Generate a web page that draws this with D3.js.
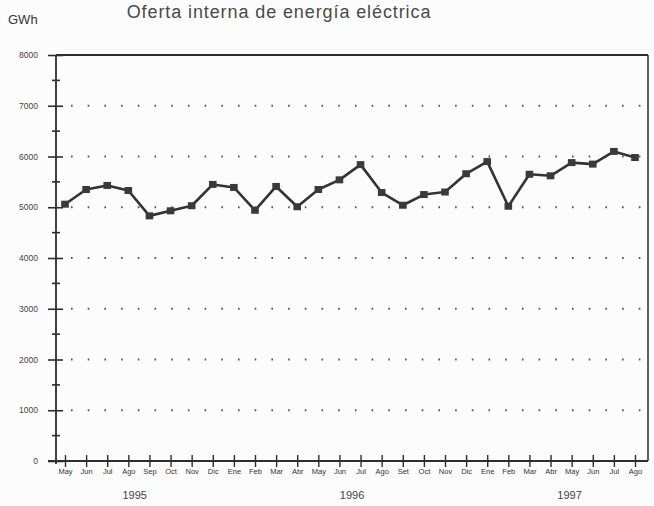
<!DOCTYPE html>
<html>
<head>
<meta charset="utf-8">
<script src="https://cdn.jsdelivr.net/npm/d3@7"></script>
<style>
  html, body { margin: 0; padding: 0; background: #fcfcfc; }
  svg { display: block; font-family: "Liberation Sans", Arial, sans-serif; }
</style>
</head>
<body>
<svg id="chart" width="654" height="506"></svg>
<script>
// ---- data ----
const months = ["May","Jun","Jul","Ago","Sep","Oct","Nov","Dic","Ene","Feb","Mar","Abr",
                "May","Jun","Jul","Ago","Set","Oct","Nov","Dic","Ene","Feb","Mar","Abr",
                "May","Jun","Jul","Ago"];
const values = [5060, 5350, 5430, 5330, 4830, 4930, 5030, 5450, 5390, 4940, 5410, 5010,
                5350, 5540, 5840, 5290, 5040, 5250, 5300, 5660, 5900, 5020, 5650, 5620,
                5880, 5850, 6100, 5980];
const years = ["1995", "1996", "1997"];
const yearAt = [3.3, 13.6, 23.9];   // month index under which each year label sits
const yTicks = [0, 1000, 2000, 3000, 4000, 5000, 6000, 7000, 8000];
const yMinorTicks = [500, 1500, 2500, 3500, 4500, 5500, 6500, 7500];
const title = "Oferta interna de energía eléctrica";
const unit = "GWh";

// ---- layout ----
const svg = d3.select("#chart");
const L = 56, R = 648, T = 55, B = 461;
const ink = "#2e2e2e";

const x = d3.scaleLinear().domain([0, months.length - 1]).range([65, 635]);
const y = d3.scaleLinear().domain([0, 8000]).range([B, T]);

// title
svg.append("text").attr("x", 279).attr("y", 18)
  .attr("text-anchor", "middle").attr("font-size", 18)
  .attr("letter-spacing", 0.9)
  .attr("fill", "#4a4a4a").text(title);

svg.append("text").attr("x", 8).attr("y", 24)
  .attr("font-size", 13).attr("fill", "#333").text(unit);

// dotted gridlines
svg.append("g").selectAll("line").data(yTicks.filter(d => d > 0 && d < 8000)).join("line")
  .attr("x1", 71).attr("x2", R - 2)
  .attr("y1", d => y(d)).attr("y2", d => y(d))
  .attr("stroke", "#555").attr("stroke-width", 2)
  .attr("stroke-dasharray", "1.6,15.1");

// frame: top and right
svg.append("line").attr("x1", L).attr("x2", R).attr("y1", T).attr("y2", T)
  .attr("stroke", ink).attr("stroke-width", 1.8);
svg.append("line").attr("x1", R).attr("x2", R).attr("y1", T).attr("y2", B)
  .attr("stroke", ink).attr("stroke-width", 1.5);

// y axis
const yAxis = d3.axisLeft(y).tickValues(yTicks).tickSize(8).tickPadding(10)
  .tickFormat(d3.format("d"));
const gy = svg.append("g").attr("transform", `translate(${L},0)`).call(yAxis);
gy.select(".domain").remove();
gy.selectAll(".tick line").attr("x2", 7).attr("x1", -8).attr("stroke", ink).attr("stroke-width", 1.6);
gy.selectAll(".tick text").attr("font-size", 8.5).attr("fill", "#444")
  .attr("font-family", "'Liberation Sans', Arial, sans-serif").attr("x", -18);
svg.append("line").attr("x1", L).attr("x2", L).attr("y1", T).attr("y2", B + 3)
  .attr("stroke", ink).attr("stroke-width", 1.8);
svg.append("g").selectAll("line").data(yMinorTicks).join("line")
  .attr("x1", L - 4).attr("x2", L + 4)
  .attr("y1", d => y(d)).attr("y2", d => y(d))
  .attr("stroke", ink).attr("stroke-width", 1.6);

// x axis
svg.append("line").attr("x1", L - 8).attr("x2", R).attr("y1", B).attr("y2", B)
  .attr("stroke", ink).attr("stroke-width", 1.8);
const xAxis = d3.axisBottom(x).tickValues(d3.range(months.length))
  .tickSize(5).tickPadding(3).tickFormat(i => months[i]);
const gx = svg.append("g").attr("transform", `translate(0,${B})`).call(xAxis);
gx.select(".domain").remove();
gx.selectAll(".tick line").attr("y1", -6).attr("y2", 6).attr("stroke", ink).attr("stroke-width", 1.4);
gx.selectAll(".tick text").attr("font-size", 7.5).attr("fill", "#333")
  .attr("font-family", "'Liberation Sans', Arial, sans-serif")
  .attr("y", 8);

// year labels
svg.append("g").selectAll("text").data(years).join("text")
  .attr("x", (d, i) => x(yearAt[i])).attr("y", 499)
  .attr("text-anchor", "middle").attr("font-size", 11).attr("fill", "#444")
  .text(d => d);

// series
svg.append("path").datum(values)
  .attr("fill", "none").attr("stroke", "#333").attr("stroke-width", 2.6)
  .attr("stroke-linejoin", "round")
  .attr("d", d3.line().x((d, i) => x(i)).y(d => y(d)));

svg.append("g").selectAll("rect").data(values).join("rect")
  .attr("x", (d, i) => x(i) - 3.8).attr("y", d => y(d) - 3.5)
  .attr("width", 7.6).attr("height", 7)
  .attr("fill", "#3a3a3a");
</script>
</body>
</html>
